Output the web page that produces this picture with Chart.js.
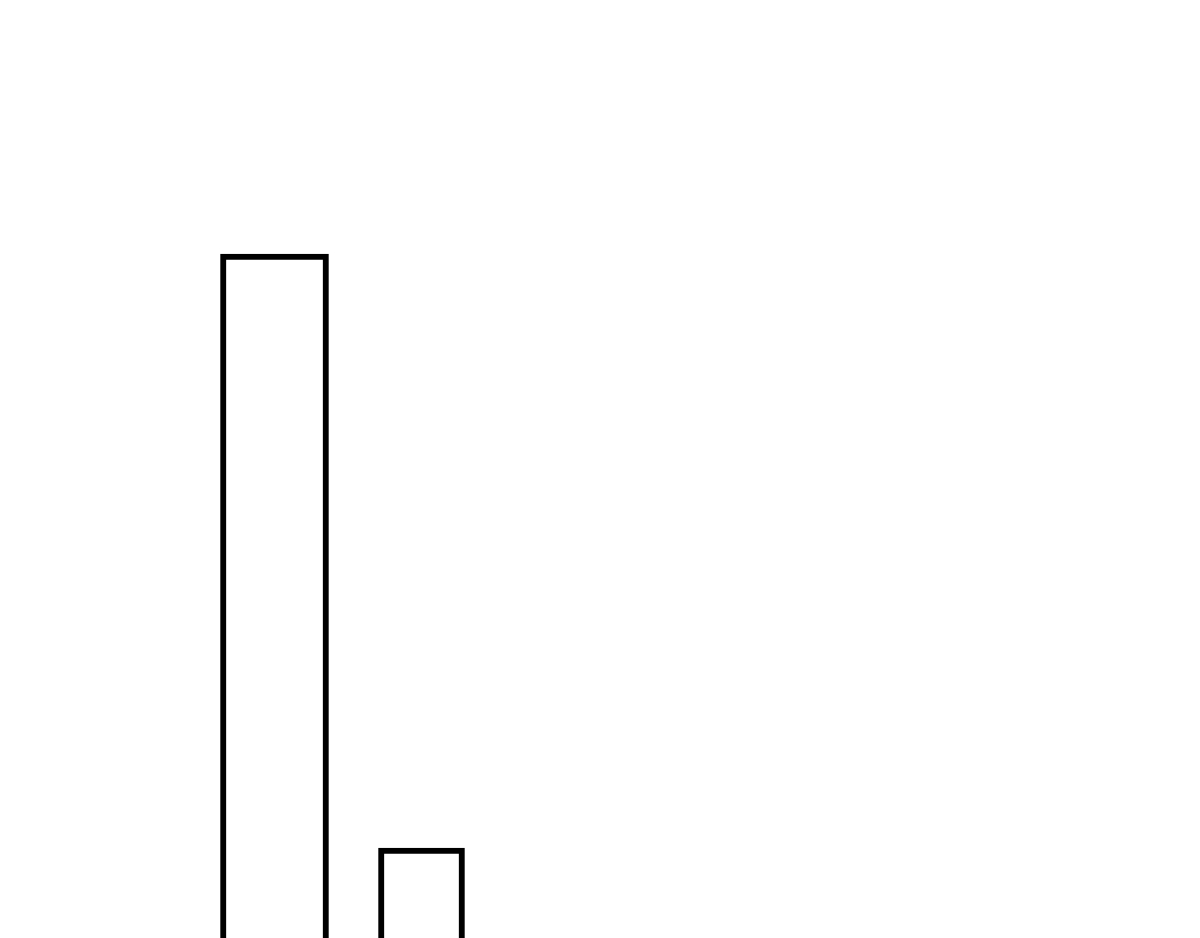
<!DOCTYPE html>
<html>
<head>
<meta charset="utf-8">
<title>Bars</title>
<script src="https://cdn.jsdelivr.net/npm/chart.js@4/dist/chart.umd.min.js"></script>
<style>
  html, body { margin: 0; padding: 0; background: #ffffff; overflow: hidden; }
  #wrap { width: 1200px; height: 938px; }
</style>
</head>
<body>
<div id="wrap"><canvas id="chart" width="1200" height="938"></canvas></div>
<script>
// categories along x (only two of them hold a bar)
const categories = ['c0', 'c1', 'c2', 'c3', 'c4', 'c5', 'c6'];
// the tall bar and the short bar, each in its own series
const tallBar = [null, 38, null, null, null, null, null];
const shortBar = [null, null, 5, null, null, null, null];
// y range
const yMin = 0;
const yMax = 50;

const ctx = document.getElementById('chart').getContext('2d');

new Chart(ctx, {
    type: 'bar',
    data: {
        labels: categories,
        datasets: [
            {
                data: tallBar,
                backgroundColor: '#ffffff',
                borderColor: '#000000',
                borderWidth: 6,
                barThickness: 108
            },
            {
                data: shortBar,
                backgroundColor: '#ffffff',
                borderColor: '#000000',
                borderWidth: 6,
                barThickness: 86
            }
        ]
    },
    options: {
        responsive: false,
        devicePixelRatio: 1,
        animation: false,
        grouped: false,
        layout: { padding: { left: 54, right: 117, top: 38, bottom: 0 } },
        scales: {
            x: { display: false },
            y: { display: false, min: yMin, max: yMax }
        },
        plugins: {
            legend: { display: false },
            tooltip: { enabled: false },
            title: { display: false }
        }
    }
});
</script>
</body>
</html>
